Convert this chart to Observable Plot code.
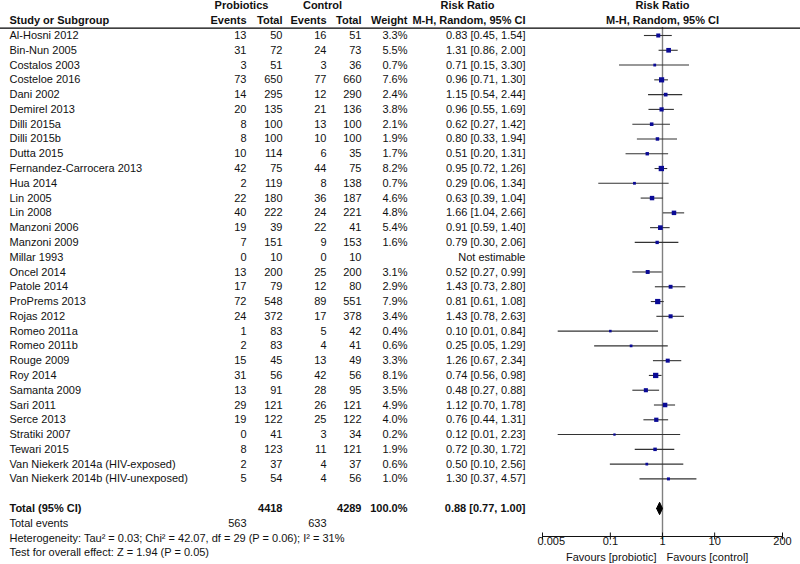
<!DOCTYPE html>
<html><head><meta charset="utf-8">
<script src="https://cdn.jsdelivr.net/npm/d3@7"></script>
<script src="https://cdn.jsdelivr.net/npm/@observablehq/plot@0.6"></script>
<style>body{margin:0;background:#fff}</style>
</head><body><div id="chart"></div>
<script>
const studies = ["Al-Hosni 2012","Bin-Nun 2005","Costalos 2003","Costeloe 2016","Dani 2002","Demirel 2013","Dilli 2015a","Dilli 2015b","Dutta 2015","Fernandez-Carrocera 2013","Hua 2014","Lin 2005","Lin 2008","Manzoni 2006","Manzoni 2009","Millar 1993","Oncel 2014","Patole 2014","ProPrems 2013","Rojas 2012","Romeo 2011a","Romeo 2011b","Rouge 2009","Roy 2014","Samanta 2009","Sari 2011","Serce 2013","Stratiki 2007","Tewari 2015","Van Niekerk 2014a (HIV-exposed)","Van Niekerk 2014b (HIV-unexposed)"];
const probEvents = [13,31,3,73,14,20,8,8,10,42,2,22,40,19,7,0,13,17,72,24,1,2,15,31,13,29,19,0,8,2,5];
const probTotal  = [50,72,51,650,295,135,100,100,114,75,119,180,222,39,151,10,200,79,548,372,83,83,45,56,91,121,122,41,123,37,54];
const ctrlEvents = [16,24,3,77,12,21,13,10,6,44,8,36,24,22,9,0,25,12,89,17,5,4,13,42,28,26,25,3,11,4,4];
const ctrlTotal  = [51,73,36,660,290,136,100,100,35,75,138,187,221,41,153,10,200,80,551,378,42,41,49,56,95,121,122,34,121,37,56];
const weights    = [3.3,5.5,0.7,7.6,2.4,3.8,2.1,1.9,1.7,8.2,0.7,4.6,4.8,5.4,1.6,null,3.1,2.9,7.9,3.4,0.4,0.6,3.3,8.1,3.5,4.9,4.0,0.2,1.9,0.6,1.0];
const rr         = [0.83,1.31,0.71,0.96,1.15,0.96,0.62,0.80,0.51,0.95,0.29,0.63,1.66,0.91,0.79,null,0.52,1.43,0.81,1.43,0.10,0.25,1.26,0.74,0.48,1.12,0.76,0.12,0.72,0.50,1.30];
const rrLo       = [0.45,0.86,0.15,0.71,0.54,0.55,0.27,0.33,0.20,0.72,0.06,0.39,1.04,0.59,0.30,null,0.27,0.73,0.61,0.78,0.01,0.05,0.67,0.56,0.27,0.70,0.44,0.01,0.30,0.10,0.37];
const rrHi       = [1.54,2.00,3.30,1.30,2.44,1.69,1.42,1.94,1.31,1.26,1.34,1.04,2.66,1.40,2.06,null,0.99,2.80,1.08,2.63,0.84,1.29,2.34,0.98,0.88,1.78,1.31,2.23,1.72,2.56,4.57];

const totalProbN = 4418, totalCtrlN = 4289, totalWeightLabel = "100.0%";
const totalProbEvents = 563, totalCtrlEvents = 633;
const pooledRR = 0.88, pooledLo = 0.77, pooledHi = 1.00;
const heterogeneityText = "Heterogeneity: Tau² = 0.03; Chi² = 42.07, df = 29 (P = 0.06); I² = 31%";
const overallText = "Test for overall effect: Z = 1.94 (P = 0.05)";
const xTicks = [0.005, 0.1, 1, 10, 200];
const xTickLabels = ["0.005", "0.1", "1", "10", "200"];
const favoursLeft = "Favours [probiotic]", favoursRight = "Favours [control]";

const rows = studies.map((name, i) => ({
  name, row: i, pe: probEvents[i], pt: probTotal[i], ce: ctrlEvents[i], ct: ctrlTotal[i],
  w: weights[i], rr: rr[i], lo: rrLo[i], hi: rrHi[i]
}));
const ticks = xTicks.map((v, i) => ({v, label: xTickLabels[i]}));
const TOTAL_ROW = studies.length + 1;
const EVENTS_ROW = TOTAL_ROW + 1, HET_ROW = TOTAL_ROW + 2, TEST_ROW = TOTAL_ROW + 3;
const HEADER_LINE_ROW = -0.5;

const FRAME_LEFT = 542, FRAME_RIGHT_MARGIN = 18;
const MARGIN_TOP = 27, MARGIN_BOTTOM = 28, H = 564;
const FS = 11;
const INK = "#111";
function col(data, text, px, anchor = "end", bold = false) {
  return Plot.text(data, {text, y: "row", frameAnchor: "left", dx: px - FRAME_LEFT,
    textAnchor: anchor, fontWeight: bold ? "bold" : "normal", fontSize: FS, fill: INK});
}
function label(str, row, px, anchor = "start", bold = false) {
  return Plot.text([str], {text: d => d, y: [row], frameAnchor: "left", dx: px - FRAME_LEFT,
    textAnchor: anchor, fontWeight: bold ? "bold" : "normal", fontSize: FS, fill: INK});
}
const fmtRR = d => d.rr == null ? "Not estimable" : `${d.rr.toFixed(2)} [${d.lo.toFixed(2)}, ${d.hi.toFixed(2)}]`;

const diamond = [
  {x: pooledLo, y: TOTAL_ROW}, {x: pooledRR, y: TOTAL_ROW - 0.42},
  {x: pooledHi, y: TOTAL_ROW}, {x: pooledRR, y: TOTAL_ROW + 0.42}, {x: pooledLo, y: TOTAL_ROW}
];

const rowH = 14.78, row0 = 35;
const frameH = H - MARGIN_TOP - MARGIN_BOTTOM;
const chart = Plot.plot({
  width: 800, height: H,
  marginLeft: FRAME_LEFT, marginRight: FRAME_RIGHT_MARGIN, marginTop: MARGIN_TOP, marginBottom: MARGIN_BOTTOM,
  style: {fontFamily: "'Liberation Sans', Arial, sans-serif", fontSize: "11px", background: "#fff", color: INK},
  x: {type: "log", domain: [0.005, 200], label: null, axis: null},
  y: {domain: [-2, TEST_ROW], range: [row0 - 2 * rowH, row0 + TEST_ROW * rowH], axis: null},
  r: {type: "sqrt", domain: [0, 8.2], range: [1, 3]},
  marks: [
    // line of no effect
    Plot.ruleX([1], {stroke: "#808080", strokeWidth: 1.4}),
    // axis line and ticks
    Plot.frame({anchor: "bottom", stroke: "#111"}),
    Plot.tickX(ticks, {x: "v", insetTop: frameH - 3.5, insetBottom: -3.5, stroke: "#111"}),
    Plot.text(ticks.slice(0, 1), {x: "v", text: "label", frameAnchor: "bottom", dy: 8, dx: -5, textAnchor: "start", fontSize: FS, fill: INK}),
    Plot.text(ticks.slice(1), {x: "v", text: "label", frameAnchor: "bottom", dy: 8, textAnchor: "middle", fontSize: FS, fill: INK}),
    Plot.text([favoursLeft], {x: [1], text: d => d, frameAnchor: "bottom", dy: 24, dx: -6, textAnchor: "end", fontSize: FS, fill: INK}),
    Plot.text([favoursRight], {x: [1], text: d => d, frameAnchor: "bottom", dy: 24, dx: 4, textAnchor: "start", fontSize: FS, fill: INK}),
    // CIs and point estimates
    Plot.ruleY(rows.filter(d => d.rr != null), {y: "row", x1: "lo", x2: "hi", stroke: "#333", strokeWidth: 1.1}),
    Plot.dot(rows.filter(d => d.rr != null), {x: "rr", y: "row", r: "w", symbol: "square", fill: "#0a0a96", stroke: null}),
    Plot.line(diamond, {x: "x", y: "y", fill: "#000", stroke: "#000", strokeWidth: 1}),
    // headers
    label("Probiotics", -2, 241, "middle", true),
    label("Control", -2, 322, "middle", true),
    label("Risk Ratio", -2, 467, "middle", true),
    label("Risk Ratio", -2, 662, "middle", true),
    label("Study or Subgroup", -1, 9, "start", true),
    label("Events", -1, 246, "end", true),
    label("Total", -1, 282, "end", true),
    label("Events", -1, 326, "end", true),
    label("Total", -1, 361, "end", true),
    label("Weight", -1, 407, "end", true),
    label("M-H, Random, 95% CI", -1, 525, "end", true),
    label("M-H, Random, 95% CI", -1, 662, "middle", true),
    // study rows
    col(rows, "name", 9, "start"),
    col(rows, "pe", 246),
    col(rows, "pt", 282),
    col(rows, "ce", 326),
    col(rows, "ct", 361),
    col(rows, d => d.w == null ? "" : d.w.toFixed(1) + "%", 407),
    col(rows, fmtRR, 525),
    // totals
    label("Total (95% CI)", TOTAL_ROW, 9, "start", true),
    label(String(totalProbN), TOTAL_ROW, 282, "end", true),
    label(String(totalCtrlN), TOTAL_ROW, 361, "end", true),
    label(totalWeightLabel, TOTAL_ROW, 407, "end", true),
    label(`${pooledRR.toFixed(2)} [${pooledLo.toFixed(2)}, ${pooledHi.toFixed(2)}]`, TOTAL_ROW, 525, "end", true),
    label("Total events", EVENTS_ROW, 9, "start"),
    label(String(totalProbEvents), EVENTS_ROW, 246, "end"),
    label(String(totalCtrlEvents), EVENTS_ROW, 326, "end"),
    label(heterogeneityText, HET_ROW, 9, "start"),
    label(overallText, TEST_ROW, 9, "start"),
    // header separator line across the whole table
    Plot.ruleY([HEADER_LINE_ROW], {insetLeft: -FRAME_LEFT, insetRight: -FRAME_RIGHT_MARGIN, stroke: "#000", strokeWidth: 1.4})
  ]
});
document.getElementById("chart").appendChild(chart);
</script>
</body></html>
